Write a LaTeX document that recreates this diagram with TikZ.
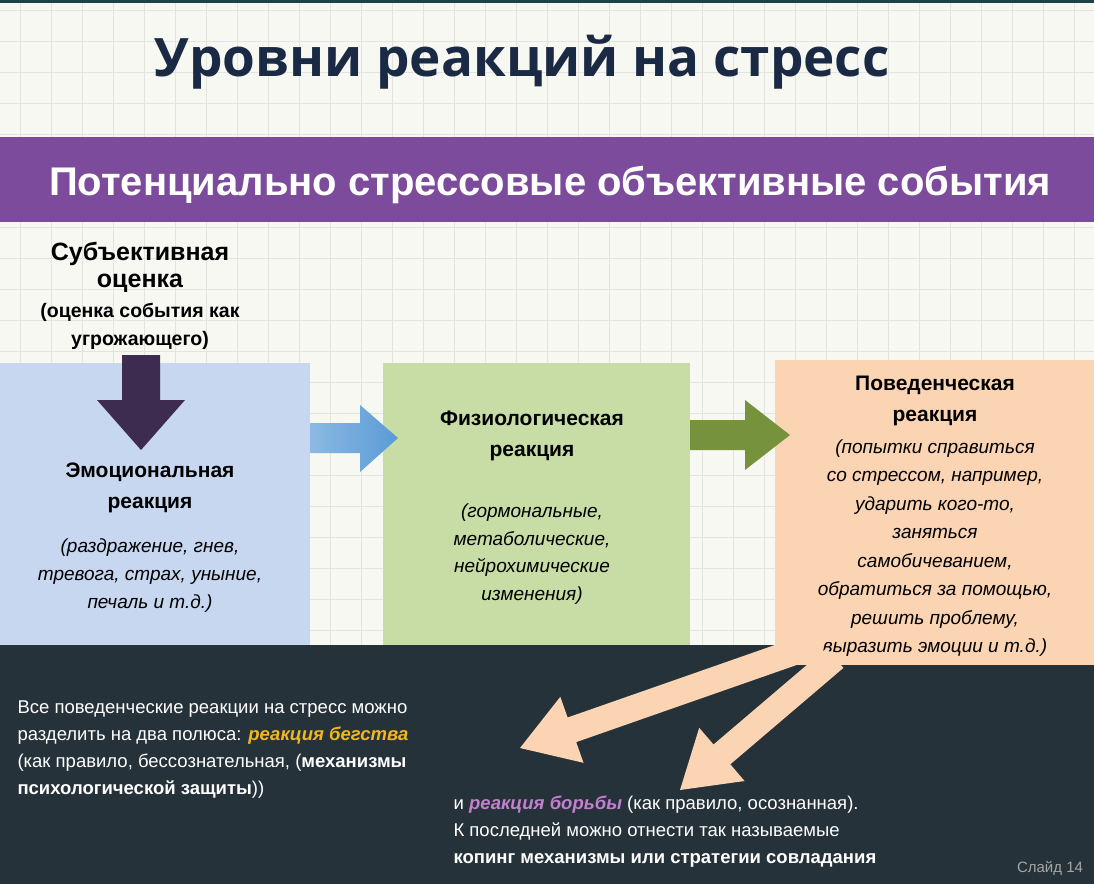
\documentclass[tikz,border=0pt]{standalone}
\usepackage{fontspec}
\setmainfont{Liberation Sans}
\newfontfamily\titlefont{Open Sans}
\definecolor{bg}{HTML}{F8F8F3}
\definecolor{gridc}{HTML}{E4E4DE}
\definecolor{navy}{HTML}{1B2A44}
\definecolor{purp}{HTML}{7D4B9B}
\definecolor{bluebox}{HTML}{C6D7EF}
\definecolor{greenbox}{HTML}{C8DCA6}
\definecolor{peach}{HTML}{FBD4B3}
\definecolor{darkbg}{HTML}{263239}
\definecolor{darrow}{HTML}{3E2C50}
\definecolor{barrow}{HTML}{5A9BD6}
\definecolor{garrow}{HTML}{76923C}
\definecolor{yel}{HTML}{F2B71C}
\definecolor{pink}{HTML}{C47FD0}
\tikzset{
 txt/.style={align=center, font=\fontsize{19}{27}\selectfont, text=black},
 hd/.style={align=center, font=\fontsize{21}{31}\selectfont\bfseries, text=black},
 wt/.style={anchor=north west, align=left, font=\fontsize{18.5}{27}\selectfont, text=white}
}
\begin{document}
\begin{tikzpicture}[x=1pt,y=-1pt]
\useasboundingbox (0,0) rectangle (1094,884);
\fill[bg] (0,0) rectangle (1094,884);
\foreach \i in {0,...,36} {\draw[gridc,line width=0.8pt] (\i*31+20,0) -- (\i*31+20,884);}
\foreach \j in {0,...,29} {\draw[gridc,line width=0.8pt] (0,\j*31+10) -- (1094,\j*31+10);}
\fill[darkbg!80!teal] (0,0) rectangle (1094,3);
\node[font=\titlefont\fontsize{53}{58}\selectfont\bfseries, text=navy] (title) at (522,62) {Уровни реакций на стресс};
\fill[purp] (0,137) rectangle (1094,222);
\node[font=\fontsize{40}{44}\selectfont\bfseries, text=white] (band) at (550,185) {Потенциально стрессовые объективные события};
% dark bottom
\fill[darkbg] (0,645) rectangle (1094,884);
% boxes
\fill[bluebox] (0,363) rectangle (310,645);
\fill[greenbox] (383,363) rectangle (690,645);
\fill[peach] (775,360) rectangle (1094,665);
\node[hd, font=\fontsize{25}{27}\selectfont\bfseries] (subj) at (140,267) {Субъективная\\оценка};
\node[hd, font=\fontsize{19.5}{28}\selectfont\bfseries] (subj2) at (140,326) {(оценка события как\\угрожающего)};
% down arrow
\fill[darrow] (122,355) -- (160,355) -- (160,400) -- (185,400) -- (141,450) -- (97,400) -- (122,400) -- cycle;
\node[hd] (emo) at (150,488) {Эмоциональная\\реакция};
\node[txt, font=\fontsize{19}{28}\selectfont\itshape] (emo2) at (150,576) {(раздражение, гнев,\\тревога, страх, уныние,\\печаль и т.д.)};
% blue arrow
\shade[left color=barrow!70, right color=barrow] (310,423) -- (360,423) -- (360,405) -- (398,438) -- (360,472) -- (360,453) -- (310,453) -- cycle;
\node[hd] (phys) at (532,436) {Физиологическая\\реакция};
\node[txt, font=\fontsize{19}{27.5}\selectfont\itshape] (phys2) at (532,554) {(гормональные,\\метаболические,\\нейрохимические\\изменения)};
% green arrow
\fill[garrow] (690,420) -- (745,420) -- (745,400) -- (790,435) -- (745,470) -- (745,450) -- (690,450) -- cycle;
\node[hd] (beh) at (935,401) {Поведенческая\\реакция};
\node[txt, font=\fontsize{19}{28.5}\selectfont\itshape] (beh2) at (935,548) {(попытки справиться\\со стрессом, например,\\ударить кого-то,\\заняться\\самобичеванием,\\обратиться за помощью,\\решить проблему,\\выразить эмоции и т.д.)};
% peach arrows
\fill[peach] (795.7,637.7) -- (567.6,717.5) -- (560.3,696.8) -- (520,748) -- (583.5,762.8) -- (576.2,742.1) -- (804.3,662.3) -- cycle;
\fill[peach] (826.6,648.1) -- (713.5,744.5) -- (699.2,727.8) -- (680,790) -- (744.6,781.0) -- (730.3,764.3) -- (843.4,667.9) -- cycle;
\node[wt] (left) at (14,697) {Все поведенческие реакции на стресс можно\\разделить на два полюса: {\color{yel}\bfseries\itshape реакция бегства}\\(как правило, бессознательная, (\textbf{механизмы}\\\textbf{психологической защиты}))};
\node[wt] (right) at (450,792) {и {\color{pink}\bfseries\itshape реакция борьбы} (как правило, осознанная).\\К последней можно отнести так называемые\\\textbf{копинг механизмы или стратегии совладания}};
\node[font=\fontsize{15}{18}\selectfont, text=gray!70] (slide) at (1050,868) {Слайд 14};
\end{tikzpicture}
\end{document}
